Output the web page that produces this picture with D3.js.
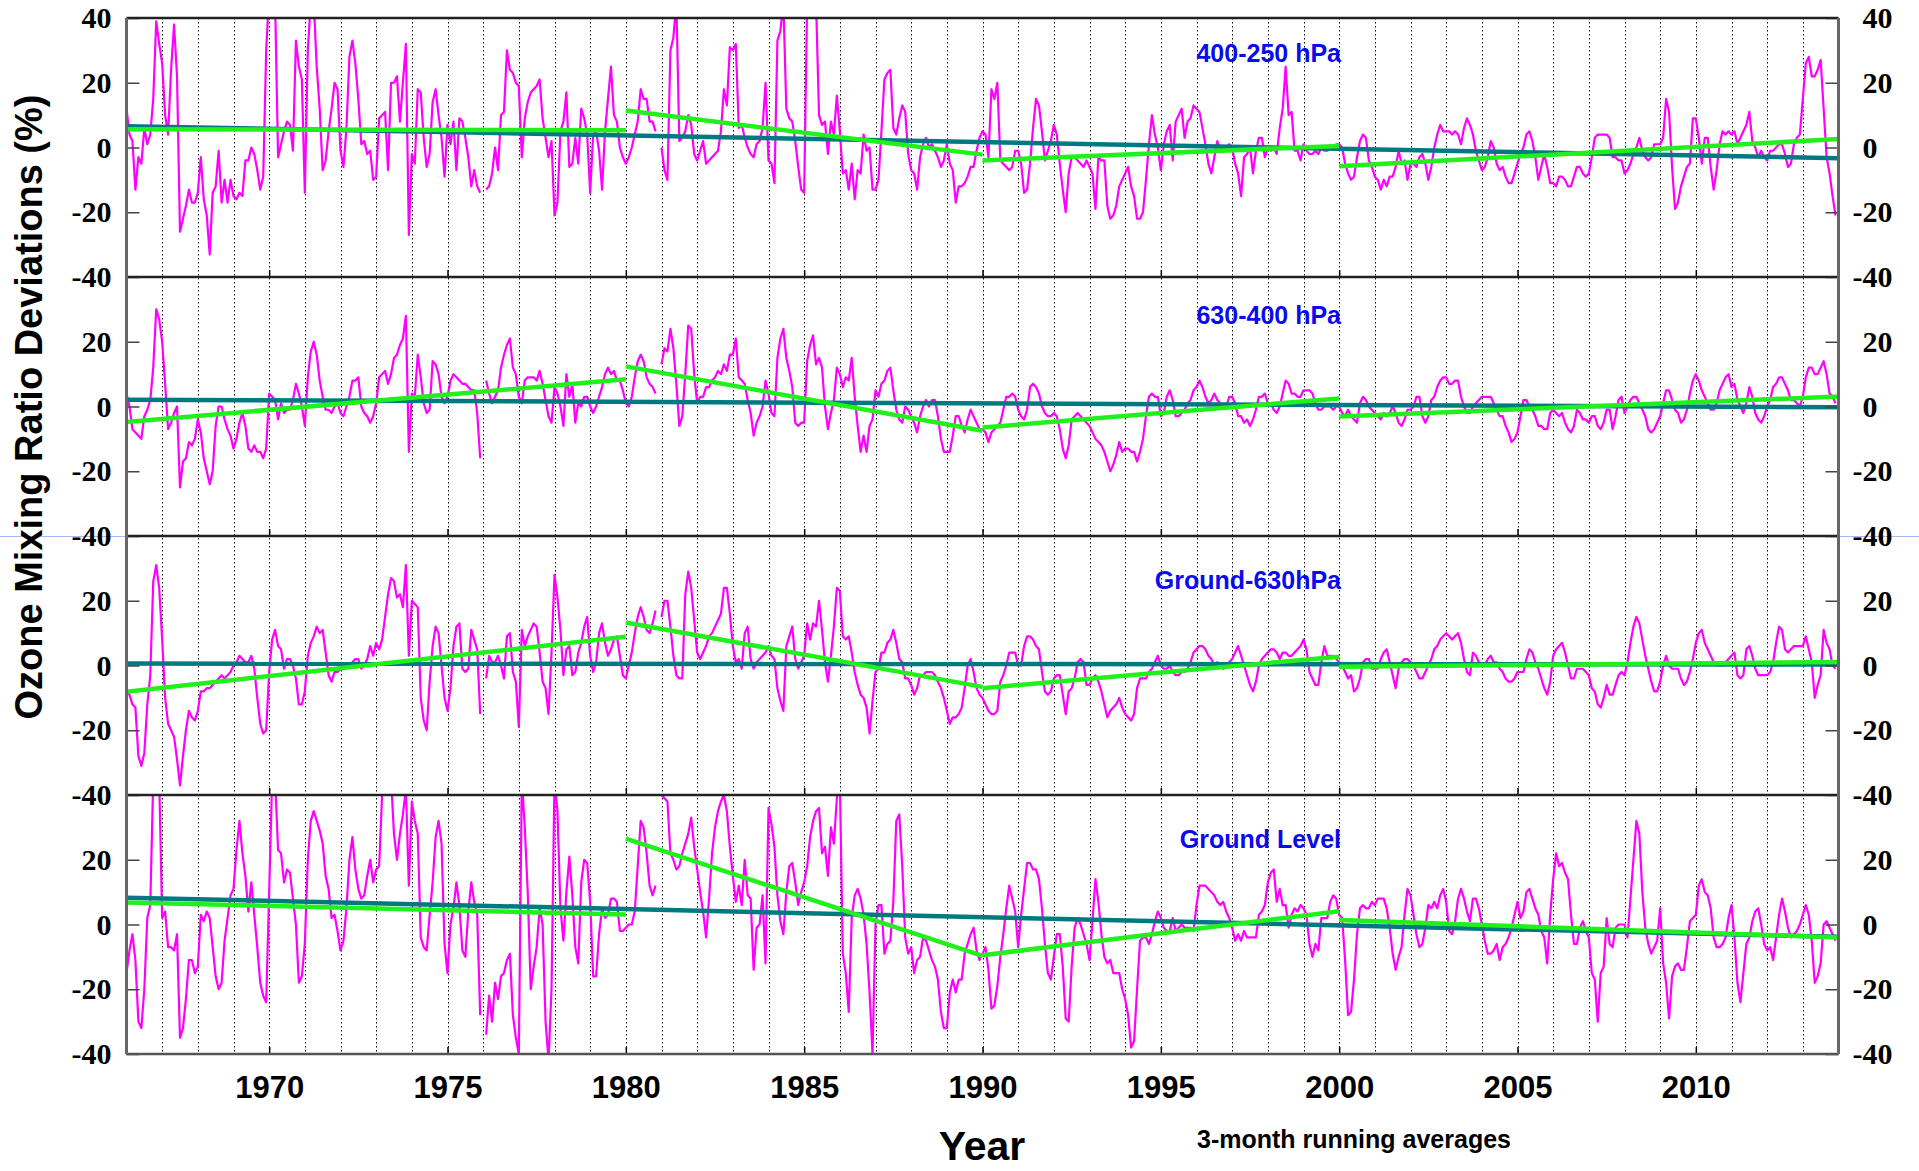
<!DOCTYPE html>
<html lang="en">
<head>
<meta charset="UTF-8">
<title>Ozone Mixing Ratio Deviations</title>
<script src="https://d3js.org/d3.v7.min.js"></script>
<style>
  body { margin: 0; background: #fff; }
</style>
</head>
<body>
<svg id="chart" width="1919" height="1171"></svg>
<script>
// 3-month running averages, monthly from Jan 1966, one row per year (null = no data)
const startYear = 1966;
const panelNames = ["400-250 hPa", "630-400 hPa", "Ground-630hPa", "Ground Level"];

const upper = [
  12, 4, 2, -13, -3, -5, 6, 1, 4, 15, 39, 32,
  26, 10, 4, 24, 38, 22, -26, -22, -18, -13, -17, -17,
  -14, -3, -16, -21, -33, -14, -12, -1, -17, -10, -17, -10,
  -15, -16, -14, -15, -4, -4, 0, -2, -7, -13, -9, 30,
  48, 48, 45, -3, 1, 5, 8, 7, -1, 33, 25, 21,
  -14, 30, 45, 45, 25, 12, -7, -4, 5, 12, 20, 18,
  -1, -6, 6, 28, 33, 26, 15, 1, 2, -2, -1, -10,
  -9, 9, 10, 11, -7, 20, 20, 22, 8, 20, 32, -27,
  -2, -5, 18, 17, 3, -6, -2, 14, 18, 10, 3, -9,
  7, 1, 8, -7, 9, 8, 3, -3, -12, -7, -12, -14,
  null, -13, -12, -8, 0, -7, 10, 11, 30, 24, 23, 20,
  19, -3, 9, 14, 17, 18, 19, 21, 9, 3, -3, 2,
  -21, -17, 5, 8, 17, -6, -5, 3, -5, 12, 9, 4,
  -14, 4, 5, -1, -13, 5, 15, 25, 10, 8, 0, -3,
  -5, -3, 0, 4, 8, 18, 15, 15, 8, 8, 5, null,
  0, -7, -10, 30, 34, 45, 2, 3, 5, 10, 7, -2,
  -4, -1, 2, -5, -4, -3, -2, -1, 5, 18, 13, 31,
  30, 32, 6, 7, 3, 0, -2, -3, 1, 2, 6, 20,
  -4, -5, -11, 33, 36, 45, 12, 9, 8, 2, -6, -13,
  -14, 45, 48, 48, 45, 10, 7, 8, -2, 8, 4, 16,
  5, -8, -7, -13, -5, -16, -7, -8, 4, -1, 0, -13,
  -13, -10, 5, 21, 23, 24, 6, 4, 9, 13, 11, -2,
  -7, -8, -13, -3, 1, 3, 0, 1, -1, -3, -6, -4,
  1, -5, -7, -17, -12, -12, -11, -9, -6, -6, -1, 3,
  5, 4, -3, 18, 15, 20, -4, -5, -6, -7, -6, -1,
  -1, -5, -14, -13, -5, 6, 15, 13, 5, -4, -1, 2,
  7, 4, -5, -13, -20, -8, -3, -3, -4, -5, -6, -4,
  -6, -8, -19, -3, -4, -4, -18, -22, -21, -18, -12, -10,
  -8, -6, -12, -15, -22, -22, -20, -10, 1, 10, 4, 0,
  -7, 1, 5, 7, -4, 8, 10, 12, 3, 8, 9, 13,
  12, 11, 6, 1, -5, -8, -3, 2, -1, 0, 0, 1,
  0, -5, -8, -15, -3, -2, 0, -8, -1, 3, 3, -3,
  0, -1, 0, -2, 6, 12, 25, 10, 11, -1, -1, -4,
  1, -1, -2, -2, -1, -2, 0, -1, -1, 0, 0, 1,
  1, 0, -5, -8, -10, -9, -3, 2, 4, 3, -4, -6,
  -9, -10, -13, -10, -12, -9, -9, -6, -1, -5, -4, -10,
  -5, -5, -6, -3, -2, -5, -10, -6, 0, 4, 7, 5,
  5, 5, 4, 5, 4, 1, 6, 9, 7, 4, -1, -4,
  -7, -6, -3, 2, 0, -5, -7, -6, -9, -11, -11, -8,
  -5, -2, 0, 4, 5, 2, -3, -10, -6, -2, -6, -11,
  -11, -12, -9, -9, -10, -12, -12, -9, -6, -6, -8, -9,
  -8, -3, 3, 4, 4, 4, 4, 3, -3, -3, -4, -4,
  -8, -7, -5, -2, 0, 3, -1, -3, -4, -3, 1, 1,
  1, 3, 15, 11, -6, -19, -17, -12, -9, -6, -5, 9,
  9, 3, -5, 3, 3, -6, -13, -7, 1, 5, 4, 5,
  4, 5, 1, 3, 5, 7, 11, 2, 0, -3, -1, -3,
  -4, -1, -1, 0, 1, 1, -2, -6, -5, 1, 3, 4,
  15, 26, 28, 22, 22, 24, 27, 12, -3, -8, -15, -21
];

const middle = [
  4, 0, -7, -8, -9, -10, -3, -1, 2, 12, 30, 27,
  20, 7, -7, -5, -2, 0, -25, -17, -16, -11, -12, -10,
  -4, -8, -16, -20, -24, -20, -6, 0, 0, -4, -7, -9,
  -13, -10, -5, -2, -6, -13, -14, -12, -14, -14, -16, -13,
  4, 3, 2, -4, 1, -2, -1, -1, 2, 7, 4, 0,
  -6, 9, 17, 20, 16, 8, 3, -1, -1, -2, 0, 1,
  -2, -3, 0, 3, 8, 8, 9, 0, -2, -3, -5, -3,
  1, 9, 10, 11, 7, 10, 15, 16, 19, 21, 28, -14,
  4, 3, 16, 9, 1, -2, -1, 14, 13, 10, 3, 1,
  3, 8, 10, 9, 8, 7, 7, 6, 5, 5, -2, -16,
  null, 8, 4, 1, 3, 5, 12, 16, 19, 21, 12, 10,
  3, 1, 8, 9, 9, 9, 8, 11, 7, 2, -3, -5,
  6, 4, 0, -6, 10, 3, 7, -5, 1, 0, 3, 3,
  0, -2, 0, 3, 6, 10, 12, 10, 11, 8, 8, 5,
  1, 0, 3, 9, 14, 16, 14, 9, 7, 6, 4, null,
  13, 18, 17, 24, 18, 7, -6, -3, 10, 25, 24, 10,
  1, 3, 3, 6, 6, 8, 9, 11, 10, 13, 11, 16,
  16, 21, 9, 8, 7, 2, -2, -9, -5, -3, 0, 8,
  4, -2, -3, 15, 21, 24, 15, 11, 6, -5, -6, -5,
  -5, 14, 19, 22, 13, 15, 12, 0, -7, -2, 2, 12,
  10, 6, 9, 8, 15, 3, -6, -14, -9, -14, -6, -4,
  5, 3, 7, 8, 11, 12, 5, -1, -4, -5, 0, -1,
  -3, -5, -8, -3, 0, 2, 0, 2, 2, -3, -10, -14,
  -14, -14, -9, -3, -3, -6, -8, -4, -1, -3, -5, -7,
  -7, -8, -11, -8, -7, -6, -5, -1, 3, 3, 4, 3,
  -1, -3, -4, -1, 6, 7, 6, 4, 0, -2, -3, -3,
  -2, -3, -7, -13, -16, -12, -4, -3, -2, -3, -4, -5,
  -6, -8, -10, -11, -12, -14, -17, -20, -18, -15, -11, -14,
  -13, -13, -14, -14, -17, -14, -10, -3, 3, 4, 3, 3,
  -3, -2, 3, 5, 2, -3, -3, -2, -1, 1, 2, 5,
  6, 8, 6, 3, 1, 2, 4, 2, 1, 0, 0, 3,
  3, 1, -3, -3, -5, -4, -6, -4, -1, 3, 3, 4,
  1, 1, -1, -2, 0, 4, 8, 7, 4, 4, 3, 3,
  5, 5, 5, 4, 1, -1, -1, 0, 0, 0, -1, 0,
  0, -2, -3, -1, -3, -4, -5, 1, 3, 2, 0, -1,
  -2, -3, -4, -2, -3, -2, 0, -2, -5, -6, -4, -1,
  -1, 0, 3, 3, -3, -5, -3, 2, 3, 6, 8, 9,
  9, 7, 7, 8, 8, 3, 0, -2, -2, 0, 1, 2,
  3, 3, 3, 3, 1, -1, -3, -3, -6, -8, -11, -10,
  -8, -3, 2, 2, 0, -1, -3, -6, -6, -7, -7, -2,
  -1, -2, -3, -2, -5, -7, -8, -6, -1, -2, -4, -4,
  -5, -3, -3, -6, -7, -5, -1, -1, -7, -3, 2, 3,
  -2, 0, 2, 3, 3, 1, -1, -3, -7, -8, -7, -5,
  -3, 1, 5, 5, 2, -1, -2, -5, -4, -1, 4, 8,
  10, 8, 5, 3, 1, -1, -1, 1, 5, 7, 9, 10,
  6, 7, 2, 0, -2, 1, 6, 3, -2, -4, -5, -3,
  0, 2, 6, 7, 9, 9, 7, 5, 2, 2, 1, 0,
  3, 9, 12, 12, 10, 10, 12, 14, 10, 4, 3, 1
];

const lower = [
  -8, -9, -12, -13, -28, -31, -27, -12, -3, 26, 31, 24,
  8, -10, -18, -20, -22, -29, -37, -28, -20, -14, -16, -17,
  -14, -8, -8, -7, -7, -6, -5, -4, -3, -4, -3, -2,
  0, 1, 3, 2, 1, 1, 3, -1, -10, -18, -21, -20,
  -2, 8, 11, 6, 5, -1, 2, 2, 0, -4, -12, -12,
  -8, 3, 7, 9, 12, 10, 11, 4, -3, -5, -2, -2,
  -1, -1, 0, 0, 1, 2, 2, -1, 0, 2, 6, 3,
  7, 5, 8, 15, 22, 27, 26, 21, 22, 18, 31, 3,
  20, 19, 18, -10, -17, -20, -5, 6, 12, 10, 0, -10,
  -14, -7, 6, 12, 13, -1, -2, -1, 11, 8, 5, -15,
  null, -4, 3, 1, 1, 3, 0, -4, 9, 10, -2, -5,
  -19, 11, 6, 9, 11, 13, 12, 4, -5, -7, -15, 4,
  28, 21, 11, -3, 5, 6, -3, -2, 4, 7, 12, 15,
  3, -2, 1, 10, 13, 7, 3, 5, 8, 9, 3, -3,
  -4, 0, 4, 10, 15, 18, 15, 11, 10, 13, 17, null,
  15, 20, 20, 12, 3, -3, -4, -4, 22, 29, 24, 14,
  4, 2, 4, 6, 9, 10, 12, 14, 16, 24, 24, 16,
  6, 1, 2, -1, 10, 12, 2, -1, 1, 2, 3, 4,
  6, 3, 2, -7, -11, -14, 6, 9, 12, 2, -1, 1,
  3, 13, 8, 13, 12, 20, 11, 1, -5, 3, 12, 24,
  23, 9, 8, 9, 4, -2, -6, -9, -10, -13, -21, -11,
  -2, -1, 4, 4, 7, 8, 11, 7, 2, 1, -4, -4,
  -6, -9, -7, -3, -3, -2, -2, -2, -3, -5, -7, -10,
  -14, -18, -16, -16, -15, -13, -7, 0, 2, -2, -7, -9,
  -10, -12, -14, -15, -15, -14, -5, -3, 0, 4, 4, 4,
  0, 0, 6, 9, 9, 8, 6, 5, -2, -8, -9, -8,
  -4, -3, -3, -9, -15, -8, -7, -4, 1, 2, 1, -6,
  -6, -4, -3, -5, -8, -12, -16, -14, -13, -12, -10, -13,
  -15, -16, -17, -15, -7, -4, -4, -4, -2, -1, 1, 3,
  0, -1, -1, 0, -2, -3, -3, -2, -2, -1, 1, 4,
  5, 6, 6, 5, 3, 2, 0, 1, 0, -1, 0, 1,
  2, 4, 6, 3, 0, -3, -6, -8, -5, 0, 2, 3,
  4, 5, 5, 4, 2, 4, 4, 3, 3, 4, 5, 6,
  8, 5, -2, -4, -6, -6, 1, 6, 3, 3, 3, 2,
  1, 0, -2, -4, -3, -8, -7, -4, 1, 2, 2, -1,
  -1, -1, 2, 4, 5, 1, -3, -7, -1, 1, 2, 2,
  1, 0, -2, -4, -4, -2, 0, 2, 5, 6, 8, 9,
  10, 9, 8, 9, 10, 7, 2, -2, -3, 4, 3, 1,
  0, 0, 2, 3, 1, 1, -1, -2, -4, -5, -5, -4,
  -2, -2, -2, 2, 5, 4, 1, -1, -4, -7, -9, -5,
  3, 5, 6, 7, 4, 0, -4, -4, -1, -1, -1, -2,
  -3, -7, -8, -12, -13, -10, -6, -9, -9, -6, -3, -2,
  -3, 1, 7, 12, 15, 13, 8, 3, -1, -5, -8, -8,
  -5, 0, 3, 0, -1, -1, -1, -4, -6, -5, -2, 2,
  7, 10, 11, 7, 5, 3, 1, 1, 0, 0, 1, 2,
  3, 4, -3, -4, -3, 5, 6, 3, -1, -3, -3, -3,
  -3, -2, 1, 7, 12, 11, 5, 4, 5, 6, 6, 6,
  6, 9, 5, 1, -10, -6, -3, 11, 7, 5, 0, -1
];

const ground = [
  -15, -8, -3, -11, -30, -32, -20, 2, 6, 45, 45, 45,
  2, 4, -7, -7, -8, -3, -35, -32, -23, -11, -11, -15,
  -13, 3, 1, 4, 2, -7, -16, -20, -18, -5, 2, 9,
  11, 23, 32, 22, 15, 4, 13, 3, -7, -18, -22, -24,
  10, 45, 45, 23, 22, 13, 17, 16, 8, 0, -18, -16,
  -6, 20, 32, 35, 32, 29, 25, 15, 11, 2, 3, -2,
  -8, -5, 5, 20, 27, 17, 11, 8, 9, 15, 20, 13,
  17, 18, 40, 45, 45, 45, 28, 20, 28, 34, 42, 12,
  38, 32, 28, -4, -7, -8, 3, 13, 27, 32, 25, -6,
  -15, 0, 5, 13, 6, -8, -10, 4, 13, 7, 3, -28,
  null, -34, -22, -30, -18, -23, -16, -15, -11, -9, -28, -35,
  -40, 45, 30, 10, -20, -13, -7, 5, 0, -30, -42, -20,
  45, 35, 5, -5, 10, 21, 9, -7, -12, 13, 20, 19,
  7, -16, -16, -3, 5, 2, 3, 8, 8, 7, -2, -2,
  -1, 0, 0, 4, 18, 32, 30, 22, 12, 9, 12, null,
  40, 39, 38, 22, 20, 17, 18, 22, 25, 28, 33, 24,
  17, 10, 4, -4, 8, 22, 30, 35, 38, 40, 35, 24,
  15, 7, 12, 6, 20, 9, 8, -14, -1, 0, 9, -12,
  36, 31, 24, 9, 1, -3, 10, 18, 19, 13, 6, 10,
  13, 18, 27, 32, 35, 36, 22, 24, 15, 30, 25, 39,
  45, -9, -15, -27, 2, 9, 11, 8, 3, -6, -21, -40,
  0, 6, 6, -9, -6, -5, 7, 32, 34, 18, -4, -9,
  -7, -15, -11, -10, -4, -5, -8, -11, -13, -17, -27, -32,
  -32, -21, -17, -21, -17, -17, -9, -6, -3, -1, -8, -11,
  -9, -7, -14, -26, -25, -19, -10, -3, 5, 12, 8, 4,
  -7, 3, 11, 19, 19, 17, 17, 14, 5, -6, -15, -17,
  -10, -3, -3, -13, -29, -30, -13, -1, 2, 0, -3, -6,
  -11, 1, 14, 7, -3, -10, -12, -11, -15, -15, -15, -20,
  -23, -28, -38, -36, -20, -5, -4, -4, -6, -3, 1, 4,
  2, -1, -2, -2, 2, -2, -1, 0, -1, -1, -1, -2,
  6, 12, 12, 12, 11, 10, 9, 7, 6, 7, 4, 2,
  -1, -5, -3, -5, -2, -4, -4, -4, -4, 3, 4, 6,
  13, 16, 17, 7, 11, 6, 6, -1, 3, 5, 4, 6,
  5, 3, -6, -10, -6, -8, 2, 2, 2, 7, 9, 8,
  3, 2, -11, -28, -27, -17, -3, 5, 6, 5, 5, 7,
  6, 8, 8, 8, 5, -1, -9, -14, -10, -7, 3, 11,
  9, 3, -3, -7, -6, -1, 6, 5, 7, 5, 9, 11,
  7, -2, -3, 1, 8, 11, 8, 4, 1, 8, 8, 5,
  0, -5, -9, -9, -8, -6, -11, -7, -6, -4, -1, 3,
  7, 2, 4, 10, 11, 8, 5, 3, -2, -4, -12, 3,
  14, 22, 18, 19, 16, 14, 3, -6, -6, -1, 1, -2,
  -4, -15, -17, -30, -15, -13, 2, -6, -7, -1, 0, 0,
  0, -4, 8, 20, 32, 28, 10, -1, -6, -9, -7, -5,
  5, -12, -18, -29, -16, -13, -12, -14, -14, -7, 1, 2,
  3, 12, 14, 10, 9, 5, -4, -7, -7, -6, -4, 2,
  6, -4, -18, -24, -15, -6, -4, 1, 4, 5, 0, -6,
  -8, -7, -11, -4, 3, 8, 4, -1, -4, -3, -2, 0,
  3, 6, 3, -5, -18, -16, -12, 0, 1, -1, -3, -5
];

// overall linear trend (value at 1966, value at 2014)
const trendYears = [1966, 2014];
const overallTrend = [[6.6, -3.3], [2.1, -0.2], [0.6, 0.3], [8.3, -3.8]];

// decadal trends: [start value, end value] for each period
const periodYears = [[1966, 1980], [1980, 1990], [1990, 2000], [2000, 2014]];
const periodTrend = [
  [[5.6, 5.3], [11.4, -2.2], [-4.0, 0.5], [-5.8, 2.6]],
  [[-4.8, 8.4], [12.4, -7.5], [-6.5, 2.5], [-3.1, 3.1]],
  [[-8.1, 8.9], [13.3, -6.6], [-7.0, 2.7], [-0.4, 1.1]],
  [[6.8, 3.1], [26.5, -9.7], [-9.5, 4.1], [1.4, -4.0]]
];

const yTicks = [-40, -20, 0, 20, 40];
const yearLabels = [1970, 1975, 1980, 1985, 1990, 1995, 2000, 2005, 2010];
const gridYears = d3.range(1967, 2014);

const series = [upper, middle, lower, ground];

const svg = d3.select("#chart");
const plotLeft = 126.5, plotRight = 1838.5, plotTop = 18, panelH = 259;
const plotBottom = plotTop + 4 * panelH;
const titleDy = [0, 3, 9, 9];

const x = d3.scaleLinear().domain([1966, 2014]).range([plotLeft, plotRight]);

// thin light blue rule across the page
svg.append("line")
  .attr("x1", 0).attr("x2", 1919)
  .attr("y1", plotTop + 2 * panelH + 0.5).attr("y2", plotTop + 2 * panelH + 0.5)
  .attr("stroke", "#a9b8f2").attr("stroke-width", 1);

// yearly dotted grid
svg.append("g")
  .selectAll("line")
  .data(gridYears)
  .join("line")
  .attr("x1", d => Math.round(x(d)) + 0.5)
  .attr("x2", d => Math.round(x(d)) + 0.5)
  .attr("y1", plotTop).attr("y2", plotBottom)
  .attr("stroke", "#000")
  .attr("stroke-width", 1)
  .attr("stroke-dasharray", "1.5,2.5");

const defs = svg.append("defs");

series.forEach((vals, p) => {
  const y0 = plotTop + p * panelH;
  const y = d3.scaleLinear().domain([-40, 40]).range([y0 + panelH, y0]);
  const g = svg.append("g");
  // the top label of lower panels would sit under the "-40" of the panel above
  const ticks = p === 0 ? yTicks : yTicks.filter(v => v < 40);

  defs.append("clipPath").attr("id", "clip" + p)
    .append("rect")
    .attr("x", plotLeft).attr("y", y0)
    .attr("width", plotRight - plotLeft).attr("height", panelH);

  const plot = g.append("g").attr("clip-path", `url(#clip${p})`);

  const line = d3.line()
    .defined(d => d != null)
    .x((d, i) => x(startYear + i / 12))
    .y(d => y(d));

  plot.append("path")
    .datum(vals)
    .attr("fill", "none")
    .attr("stroke", "#ff00ff")
    .attr("stroke-width", 2.2)
    .attr("stroke-linejoin", "round")
    .attr("d", line);

  // overall trend
  plot.append("line")
    .attr("x1", x(trendYears[0])).attr("x2", x(trendYears[1]))
    .attr("y1", y(overallTrend[p][0])).attr("y2", y(overallTrend[p][1]))
    .attr("stroke", "#007a80").attr("stroke-width", 4.5);

  // period trends
  plot.selectAll(".seg")
    .data(periodTrend[p])
    .join("line")
    .attr("class", "seg")
    .attr("x1", (d, i) => x(periodYears[i][0]))
    .attr("x2", (d, i) => x(periodYears[i][1]))
    .attr("y1", d => y(d[0]))
    .attr("y2", d => y(d[1]))
    .attr("stroke", "#22f01c")
    .attr("stroke-width", 4.5);

  // left axis, inward ticks
  const ax = g.append("g")
    .attr("transform", `translate(${plotLeft},0)`)
    .call(d3.axisLeft(y).tickValues(ticks).tickSize(-13).tickPadding(15)
      .tickFormat(d => String(d)));
  ax.select(".domain").remove();
  ax.selectAll("line").attr("stroke", "#444").attr("stroke-width", 1.5);
  ax.selectAll("text")
    .attr("font-family", "'Liberation Serif', 'Times New Roman', serif")
    .attr("font-weight", "bold").attr("font-size", 30).attr("fill", "#000");

  // right axis
  const ar = g.append("g")
    .attr("transform", `translate(${plotRight},0)`)
    .call(d3.axisRight(y).tickValues(ticks).tickSize(-13).tickPadding(24)
      .tickFormat(d => String(d)));
  ar.select(".domain").remove();
  ar.selectAll("line").attr("stroke", "#444").attr("stroke-width", 1.5);
  ar.selectAll("text")
    .attr("dx", d => d < 0 ? -10 : 0)
    .attr("font-family", "'Liberation Serif', 'Times New Roman', serif")
    .attr("font-weight", "bold").attr("font-size", 30).attr("fill", "#000");

  // 5-year ticks at panel base
  const ab = g.append("g")
    .attr("transform", `translate(0,${y0 + panelH})`)
    .call(d3.axisBottom(x).tickValues(yearLabels).tickSize(-7).tickFormat(""));
  ab.select(".domain").remove();
  ab.selectAll("line").attr("stroke", "#000").attr("stroke-width", 1.5);

  // panel title
  g.append("text")
    .attr("x", 1341).attr("y", y0 + 44 + titleDy[p])
    .attr("text-anchor", "end")
    .attr("font-family", "'Liberation Sans', Arial, sans-serif")
    .attr("font-weight", "bold").attr("font-size", 25)
    .attr("fill", "#0a0af0")
    .text(panelNames[p]);
});

// frame
d3.range(5).forEach(k => {
  svg.append("line")
    .attr("x1", plotLeft).attr("x2", plotRight)
    .attr("y1", plotTop + k * panelH).attr("y2", plotTop + k * panelH)
    .attr("stroke", k === 4 ? "#555" : "#222").attr("stroke-width", 2.5);
});
[plotLeft, plotRight].forEach(xx => {
  svg.append("line")
    .attr("x1", xx).attr("x2", xx)
    .attr("y1", plotTop).attr("y2", plotBottom)
    .attr("stroke", "#666").attr("stroke-width", 3);
});

// year labels
const xa = svg.append("g")
  .attr("transform", `translate(0,${plotBottom})`)
  .call(d3.axisBottom(x).tickValues(yearLabels).tickSize(0).tickPadding(22)
    .tickFormat(d3.format("d")));
xa.select(".domain").remove();
xa.selectAll("text")
  .attr("font-family", "'Liberation Sans', Arial, sans-serif")
  .attr("font-weight", "bold").attr("font-size", 31).attr("fill", "#000");

// titles
svg.append("text")
  .attr("transform", "translate(42,407) rotate(-90)")
  .attr("text-anchor", "middle")
  .attr("font-family", "'Liberation Sans', Arial, sans-serif")
  .attr("font-weight", "bold").attr("font-size", 38)
  .text("Ozone Mixing Ratio Deviations (%)");

svg.append("text")
  .attr("x", 982).attr("y", 1160)
  .attr("text-anchor", "middle")
  .attr("font-family", "'Liberation Sans', Arial, sans-serif")
  .attr("font-weight", "bold").attr("font-size", 41)
  .text("Year");

svg.append("text")
  .attr("x", 1354).attr("y", 1148)
  .attr("text-anchor", "middle")
  .attr("font-family", "'Liberation Sans', Arial, sans-serif")
  .attr("font-weight", "bold").attr("font-size", 25)
  .text("3-month running averages");
</script>
</body>
</html>
